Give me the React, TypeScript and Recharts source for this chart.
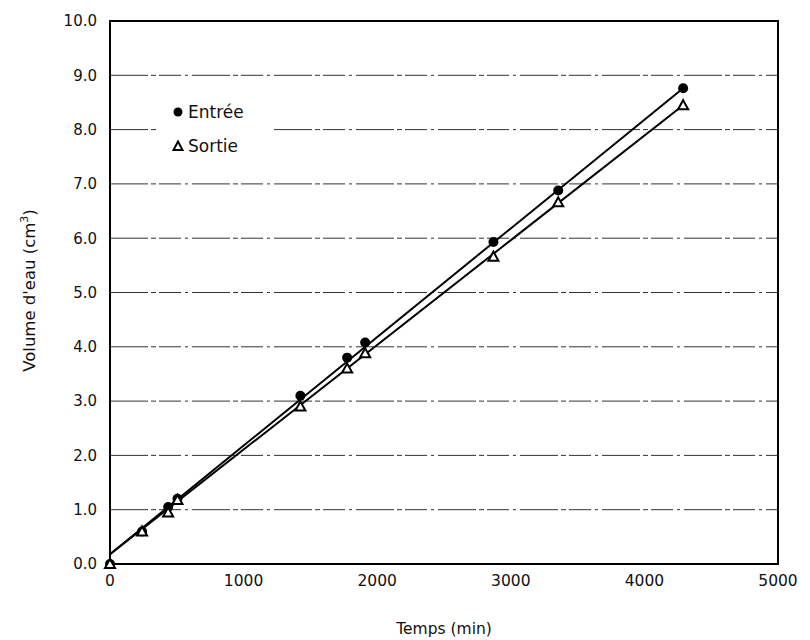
import React from 'react';
import {
  ComposedChart,
  Scatter,
  XAxis,
  YAxis,
  CartesianGrid,
  ReferenceArea,
} from 'recharts';

// Temps (min) at each reading
const times = [0, 240, 435, 505, 1425, 1775, 1910, 2870, 3355, 4290];
// Volume d'eau (cm3)
const entree = [0, 0.6, 1.05, 1.2, 3.1, 3.8, 4.08, 5.93, 6.88, 8.76];
const sortie = [0, 0.6, 0.95, 1.18, 2.9, 3.6, 3.88, 5.66, 6.66, 8.45];

// trend line end points
const trendX = [0, 4290];
const trendEntree = [0.18, 8.76];
const trendSortie = [0.18, 8.45];

const xTicks = [0, 1000, 2000, 3000, 4000, 5000];
const yTicks = [0, 1, 2, 3, 4, 5, 6, 7, 8, 9, 10];

const FONT = '"DejaVu Sans", "Liberation Sans", Arial, sans-serif';

const entreeData = times.map((t, i) => ({ x: t, y: entree[i] }));
const sortieData = times.map((t, i) => ({ x: t, y: sortie[i] }));
const entreeLine = trendX.map((t, i) => ({ x: t, y: trendEntree[i] }));
const sortieLine = trendX.map((t, i) => ({ x: t, y: trendSortie[i] }));

const Dot = (props: any) => {
  const { cx, cy } = props;
  if (cx == null || cy == null) return <g />;
  return <circle cx={cx} cy={cy} r={5} fill="#000" />;
};

const Tri = (props: any) => {
  const { cx, cy } = props;
  if (cx == null || cy == null) return <g />;
  const s = 5;
  return (
    <polygon
      points={`${cx},${cy - s} ${cx + s},${cy + s * 0.8} ${cx - s},${cy + s * 0.8}`}
      fill="#fff"
      stroke="#000"
      strokeWidth={2}
    />
  );
};

const NoShape = () => <g />;

function YTitle(props: any) {
  const vb = props.viewBox || { x: 40, y: 13, width: 62, height: 543 };
  const x = vb.x - 13;
  const y = vb.y + vb.height / 2 - 2;
  return (
    <text
      x={x}
      y={y}
      transform={`rotate(-90 ${x} ${y})`}
      textAnchor="middle"
      fontFamily={FONT}
      fontSize={16.5}
      fill="#111"
    >
      Volume d'eau (cm
      <tspan dy={-7} fontSize={11}>3</tspan>
      <tspan dy={7}>)</tspan>
    </text>
  );
}

function XTitle(props: any) {
  const vb = props.viewBox || { x: 102, y: 556, width: 668, height: 50 };
  return (
    <text
      x={vb.x + vb.width / 2}
      y={vb.y + 70}
      textAnchor="middle"
      fontFamily={FONT}
      fontSize={15.5}
      fill="#111"
    >
      Temps (min)
    </text>
  );
}

export default function App() {
  return (
    <div style={{ position: 'relative', width: 794, height: 630 }}>
      <ComposedChart
        width={794}
        height={630}
        margin={{ top: 13, right: 24, left: 40, bottom: 24 }}
      >
        <CartesianGrid
          vertical={false}
          stroke="#333"
          strokeWidth={1}
          strokeDasharray="38 3 5 3 22 4 3 4"
        />
        <XAxis
          type="number"
          dataKey="x"
          domain={[0, 5000]}
          ticks={xTicks}
          tickLine={false}
          axisLine={{ stroke: '#000', strokeWidth: 2 }}
          tick={{ fontSize: 15.5, fontFamily: FONT, fill: '#111' }}
          tickMargin={5}
          height={50}
          label={{ content: XTitle }}
        />
        <YAxis
          type="number"
          dataKey="y"
          domain={[0, 10]}
          ticks={yTicks}
          tickFormatter={(v) => v.toFixed(1)}
          tickLine={false}
          axisLine={{ stroke: '#000', strokeWidth: 2 }}
          tick={{ fontSize: 15, fontFamily: FONT, fill: '#111' }}
          tickMargin={7}
          width={62}
          label={{ content: YTitle }}
        />
        <ReferenceArea
          x1={0}
          x2={5000}
          y1={0}
          y2={10}
          fill="none"
          stroke="#000"
          strokeWidth={2}
        />
        <Scatter
          data={entreeLine}
          line={{ stroke: '#000', strokeWidth: 2 }}
          shape={NoShape}
          isAnimationActive={false}
        />
        <Scatter
          data={sortieLine}
          line={{ stroke: '#000', strokeWidth: 2 }}
          shape={NoShape}
          isAnimationActive={false}
        />
        <Scatter data={entreeData} shape={Dot} isAnimationActive={false} />
        <Scatter data={sortieData} shape={Tri} isAnimationActive={false} />
      </ComposedChart>
      <div
        style={{
          position: 'absolute',
          left: 150,
          top: 87,
          width: 112,
          height: 68,
          background: '#fff',
          fontFamily: FONT,
          fontSize: 17,
          color: '#111',
        }}
      >
        <div style={{ display: 'flex', alignItems: 'center', height: 34, paddingLeft: 14 }}>
          <svg width={12} height={12} style={{ marginRight: 4 }}>
            <circle cx={6} cy={6} r={4.5} fill="#000" />
          </svg>
          Entrée
        </div>
        <div style={{ display: 'flex', alignItems: 'center', height: 34, paddingLeft: 14 }}>
          <svg width={12} height={12} style={{ marginRight: 4 }}>
            <polygon points="6,1.5 10.5,10 1.5,10" fill="#fff" stroke="#000" strokeWidth={2} />
          </svg>
          Sortie
        </div>
      </div>
    </div>
  );
}
